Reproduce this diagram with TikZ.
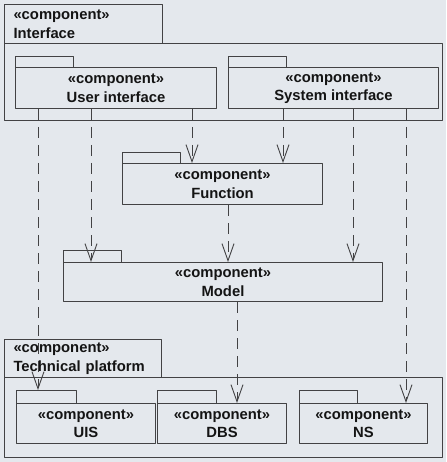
\documentclass[tikz,border=0pt]{standalone}
\usepackage{fontspec}
\setmainfont{Liberation Sans}
\usetikzlibrary{arrows.meta}
\definecolor{paper}{RGB}{228,232,237}
\definecolor{ink}{RGB}{66,66,68}
\tikzset{
	pkg/.style={draw=ink, line width=1pt, anchor=north west, inner sep=0pt, align=center},
	tab/.style={draw=ink, line width=1pt, anchor=north west, inner sep=0pt},
	dep/.style={draw=ink, line width=0.9pt, dash pattern=on 11pt off 7pt, -{Straight Barb[length=17pt,width=12pt]}}
}
\begin{document}
\begin{tikzpicture}[x=1pt, y=-1pt, font=\fontsize{14.8}{18.5}\selectfont\bfseries, text=black!92, line join=round]
			\fill[paper] (0,0) rectangle (446,462);
			\useasboundingbox (0,0) rectangle (446,462);
			% Interface
			\node[tab, minimum width=158pt, minimum height=39pt, align=left, text width=140pt, inner xsep=9pt] (itftab) at (4,4) {«component»\\Interface};
			\node[pkg, minimum width=438pt, minimum height=77pt] (itf) at (4,43) {};
			\node[tab, minimum width=58pt, minimum height=11pt] (uitab) at (15,56) {};
			\node[pkg, minimum width=201pt, minimum height=41pt] (ui) at (15,67) {«component»\\User interface};
			\node[tab, minimum width=58pt, minimum height=11pt] (sitab) at (228,56) {};
			\node[pkg, minimum width=210pt, minimum height=41pt] (si) at (228,67) {«component»\\System interface};
			% Function, Model
			\node[tab, minimum width=58pt, minimum height=11pt] (funtab) at (122,152) {};
			\node[pkg, minimum width=200pt, minimum height=41pt] (fun) at (122,163) {«component»\\Function};
			\node[tab, minimum width=58pt, minimum height=12pt] (modtab) at (63,250) {};
			\node[pkg, minimum width=319pt, minimum height=39pt] (mod) at (63,262) {«component»\\Model};
			% Technical platform
			\node[tab, minimum width=157pt, minimum height=38pt, align=left, text width=139pt, inner xsep=9pt] (tptab) at (4,339) {«component»\\Technical platform};
			\node[pkg, minimum width=438pt, minimum height=80pt] (tp) at (4,377) {};
			\node[tab, minimum width=60pt, minimum height=13pt] (uistab) at (16,390) {};
			\node[pkg, minimum width=139pt, minimum height=40pt] (uis) at (16,403) {«component»\\UIS};
			\node[tab, minimum width=59pt, minimum height=13pt] (dbstab) at (157,390) {};
			\node[pkg, minimum width=129pt, minimum height=40pt] (dbs) at (157,403) {«component»\\DBS};
			\node[tab, minimum width=58pt, minimum height=13pt] (nstab) at (299,390) {};
			\node[pkg, minimum width=128pt, minimum height=40pt] (ns) at (299,403) {«component»\\NS};
			% dependencies
			\foreach \x/\src/\dst in {38/ui/uistab, 91/ui/mod, 192/ui/fun, 283/si/fun, 353/si/mod, 406/si/ns, 228/fun/mod, 237/mod/dbs}
				\draw[dep] (\src.south -| \x,0) -- (\dst.north -| \x,0);
		\end{tikzpicture}
\end{document}
